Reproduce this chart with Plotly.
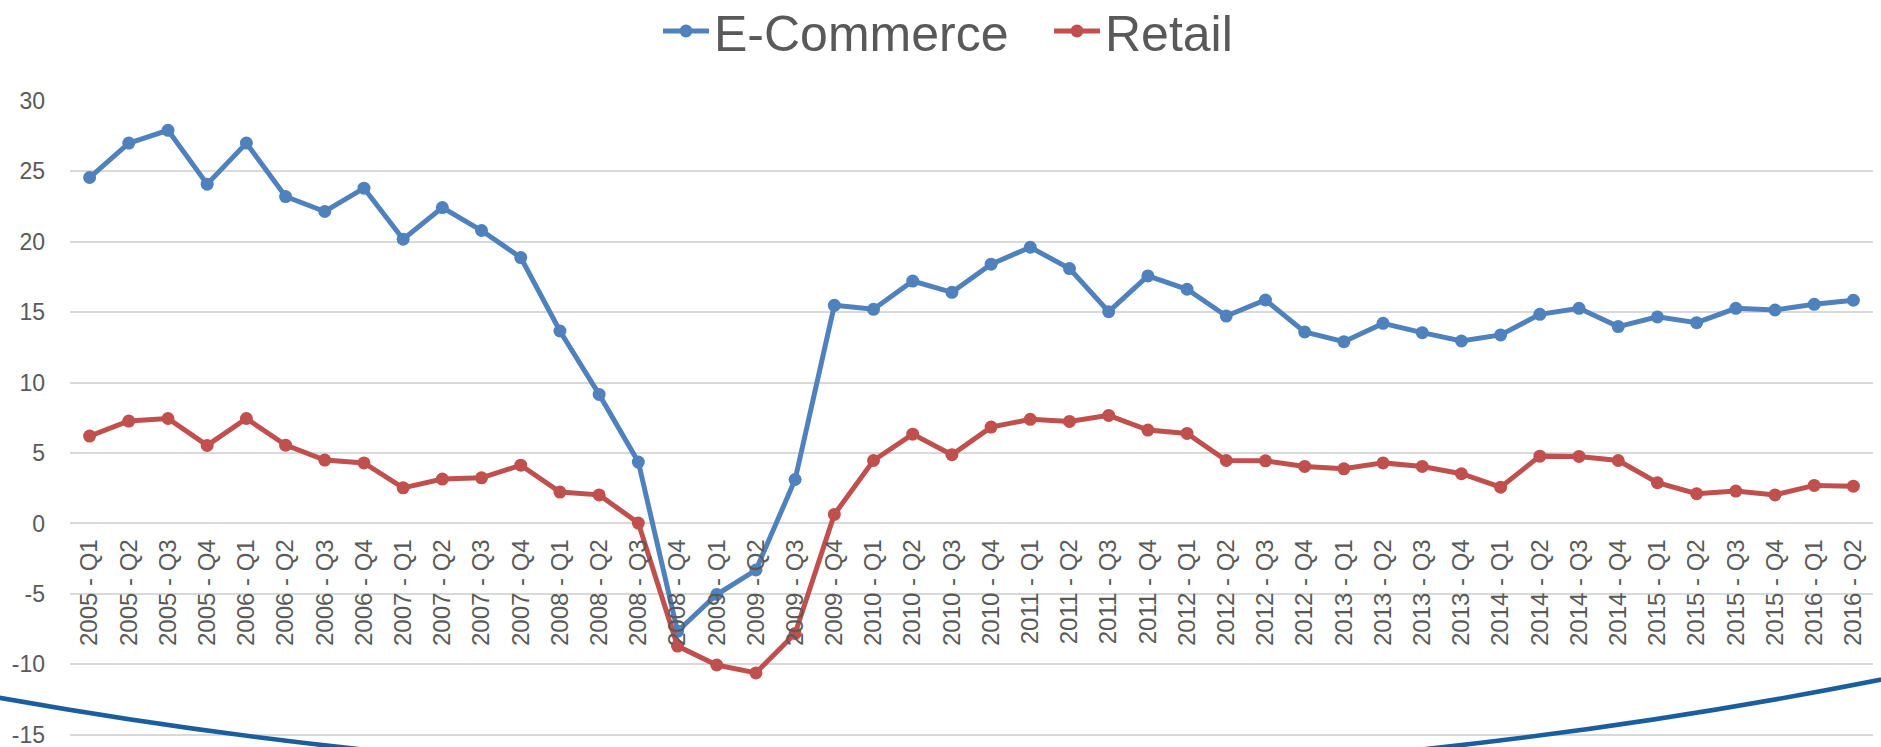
import plotly.graph_objects as go

# Quarterly year-over-year growth (%), 2005 Q1 – 2016 Q2
years = ["2005", "2006", "2007", "2008", "2009", "2010",
         "2011", "2012", "2013", "2014", "2015", "2016"]
quarters = ["Q1", "Q2", "Q3", "Q4"]
categories = [f"{y} - {q}" for y in years for q in quarters][:46]

ecommerce = [24.55, 26.99, 27.9, 24.08, 26.99, 23.2, 22.14, 23.79,
             20.17, 22.42, 20.79, 18.87, 13.66, 9.16, 4.36, -7.65,
             -5.04, -3.3, 3.12, 15.48, 15.2, 17.2, 16.4, 18.4,
             19.6, 18.09, 15.03, 17.57, 16.62, 14.72, 15.86, 13.59,
             12.9, 14.2, 13.54, 12.95, 13.38, 14.84, 15.27, 13.97,
             14.66, 14.25, 15.27, 15.15, 15.55, 15.84]
retail = [6.2, 7.27, 7.45, 5.54, 7.45, 5.56, 4.5, 4.3,
          2.53, 3.15, 3.24, 4.14, 2.23, 2.03, 0.03, -8.7,
          -10.04, -10.6, -7.8, 0.64, 4.47, 6.34, 4.88, 6.84,
          7.39, 7.24, 7.67, 6.63, 6.39, 4.47, 4.45, 4.05,
          3.88, 4.3, 4.05, 3.53, 2.58, 4.78, 4.76, 4.47,
          2.89, 2.11, 2.3, 2.03, 2.7, 2.65]

y_ticks = [-15, -10, -5, 0, 5, 10, 15, 20, 25, 30]
y_tick_text = ["-15", "-10", "-5", "0", "5", "10", "15", "20", "25", "30"]

BLUE = "#4F81BD"
RED = "#C0504D"
TEXT = "#595959"
GRID = "#D9D9D9"
FONT = "Liberation Sans, Arial, sans-serif"

W, H = 1881, 747
ML, MR, MT, MB = 70, 8, 100, 10
Y_RANGE = [-15.15, 30.05]

fig = go.Figure()
fig.add_trace(go.Scatter(
    x=categories, y=ecommerce, name="E-Commerce", mode="lines+markers",
    line=dict(color=BLUE, width=5), marker=dict(color=BLUE, size=13),
))
fig.add_trace(go.Scatter(
    x=categories, y=retail, name="Retail", mode="lines+markers",
    line=dict(color=RED, width=5), marker=dict(color=RED, size=13),
))

# decorative sweeping arc along the bottom of the slide (pixel -> paper)
pw, ph = W - ML - MR, H - MT - MB


def px(x):
    return (x - ML) / pw


def py(y):
    return (H - MB - y) / ph


arc_path = (f"M {px(-130)},{py(673)} "
            f"Q {px(892)},{py(882)} {px(1914)},{py(673)}")
fig.add_shape(type="path", path=arc_path, xref="paper", yref="paper",
              line=dict(color="#1A5E9E", width=4.5), layer="above")

zero_pos = (0 - Y_RANGE[0]) / (Y_RANGE[1] - Y_RANGE[0])

fig.update_layout(
    width=W, height=H,
    margin=dict(l=ML, r=MR, t=MT, b=MB, pad=0, autoexpand=False),
    paper_bgcolor="white", plot_bgcolor="white",
    font=dict(family=FONT, color=TEXT),
    showlegend=True,
    legend=dict(
        orientation="h", xref="container", yref="container",
        x=658 / W, xanchor="left", y=1 - 31 / H, yanchor="middle",
        font=dict(size=50, color=TEXT, family=FONT),
        itemwidth=46, entrywidth=330, entrywidthmode="pixels",
        bgcolor="rgba(0,0,0,0)",
    ),
    xaxis=dict(
        type="category", range=[-0.5, 45.5],
        anchor="free", position=zero_pos, automargin=False,
        showgrid=False, showline=False, zeroline=False, ticks="",
        tickangle=-90, tickfont=dict(size=24, color=TEXT, family=FONT),
        ticklabelstandoff=10,
    ),
    yaxis=dict(
        range=Y_RANGE, tickvals=y_ticks, ticktext=y_tick_text,
        automargin=False,
        showgrid=True, gridcolor=GRID, gridwidth=1.6,
        zeroline=False, showline=False, ticks="",
        tickfont=dict(size=23, color=TEXT, family=FONT),
        ticklabelstandoff=24, ticklabeloverflow="allow",
    ),
)

fig.write_html("out.html")
